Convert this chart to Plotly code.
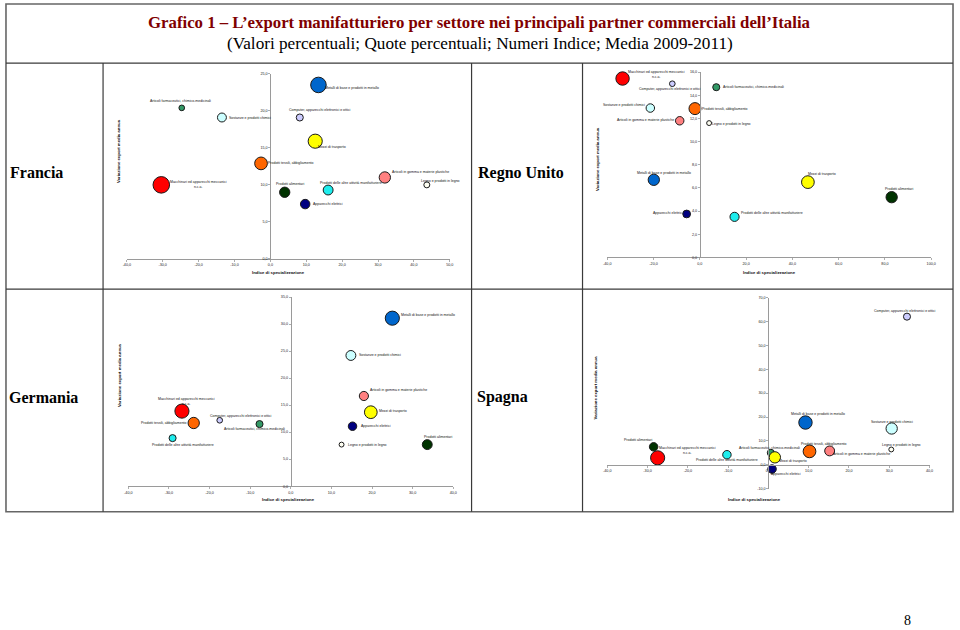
import plotly.graph_objects as go

W, H = 960, 630

# ---------------- DATA ----------------
sectors = [
    "Articoli farmaceutici, chimico-medicinali",
    "Sostanze e prodotti chimici",
    "Prodotti tessili, abbigliamento",
    "Macchinari ed apparecchi meccanici<br>n.c.a.",
    "Prodotti alimentari",
    "Metalli di base e prodotti in metallo",
    "Computer, apparecchi elettronici e ottici",
    "Mezzi di trasporto",
    "Articoli in gomma e materie plastiche",
    "Prodotti delle altre attività manifatturiere",
    "Legno e prodotti in legno",
    "Apparecchi elettrici",
]

# Indice di specializzazione (x), Variazione export media annua (y), quota (bubble)
francia_x = [-24.7, -13.5, -2.6, -30.4, 4.0, 13.4, 8.2, 12.5, 31.9, 16.1, 43.6, 9.7]
francia_y = [20.4, 19.1, 12.9, 10.0, 9.0, 23.5, 19.1, 15.9, 11.0, 9.3, 10.0, 7.4]
francia_quota = [1.6, 4.0, 8.1, 13.7, 5.3, 12.1, 2.5, 10.0, 6.4, 4.9, 1.8, 4.5]

uk_x = [7.1, -21.4, -2.1, -33.4, 82.9, -19.9, -11.9, 46.7, -8.7, 15.0, 4.0, -5.7]
uk_y = [14.7, 12.9, 12.85, 15.45, 5.2, 6.7, 15.0, 6.5, 11.8, 3.5, 11.6, 3.75]
uk_quota = [2.5, 3.6, 7.2, 9.0, 6.4, 6.4, 1.6, 8.1, 3.6, 4.2, 1.2, 3.0]

germania_x = [-7.7, 14.8, -23.9, -26.8, 33.6, 25.0, -17.5, 19.7, 18.0, -29.1, 12.5, 15.2]
germania_y = [11.5, 24.2, 11.7, 13.9, 7.7, 31.1, 12.2, 13.7, 16.7, 8.9, 7.7, 11.1]
germania_quota = [2.5, 4.9, 6.4, 10.0, 4.9, 10.0, 1.6, 8.1, 4.2, 2.5, 1.2, 3.6]

spagna_x = [0.6, 30.6, 10.2, -27.5, -28.5, 9.2, 34.4, 1.6, 15.2, -10.3, 30.5, 0.9]
spagna_y = [5.0, 15.2, 5.6, 2.9, 7.5, 17.7, 62.1, 3.1, 5.8, 4.2, 6.4, -1.8]
spagna_quota = [2.5, 6.4, 8.1, 10.0, 3.6, 9.0, 2.5, 6.4, 4.9, 3.6, 1.2, 3.6]

country_names = ["Francia", "Regno Unito", "Germania", "Spagna"]
title_text = "Grafico 1 – L’export manifatturiero per settore nei principali partner commerciali dell’Italia"
subtitle_text = "(Valori percentuali; Quote percentuali; Numeri Indice; Media 2009-2011)"
y_title = "Variazione export media annua"
x_title = "Indice di specializzazione"
page_number = "8"

# ---------------- STYLE ----------------
colors = ["#339966", "#CCFFFF", "#FF6600", "#FF0000", "#003300", "#0066CC",
          "#CCCCFF", "#FFFF00", "#FF8080", "#1EEDED", "#FFFFF2", "#000080"]

label_pos = {
    0: [('center', -1, 6.7), ('left', 6, 0), ('left', 5.7, 0), ('left', 7.3, 0.5), ('center', 5.5, 8.4),
        ('left', 6, -3.4), ('left', -11.6, 7.7), ('left', 1.7, -5.7), ('left', 6, 5.4), ('left', -9, 7),
        ('left', -6.7, 3.7), ('left', 7, 0)],
    1: [('left', 5.7, 0.7), ('right', -4.4, 3.4), ('left', 6.3, 0), ('left', 4.6, 4.4), ('center', 7, 8.3),
        ('center', 10.5, 7.3), ('center', -2.5, -5.3), ('left', -1, 8.3), ('right', -5, 0.4), ('left', 5, 4),
        ('left', 2.3, -0.7), ('right', -2.6, 1.3)],
    2: [('center', -5.2, -5.3), ('left', 6.7, 0), ('right', -5.3, 0), ('center', 4.1, 9.9), ('center', 10.7, 7.6),
        ('left', 8, 3), ('center', 21.1, 4.7), ('left', 7, 0.7), ('left', 5, 6.3), ('center', 10.5, -6.6),
        ('left', 5.3, 0), ('left', 7.3, 0)],
    3: [('center', -1.1, 5), ('center', 0.7, 6.6), ('left', -10, 7), ('left', 0.7, 7.7), ('right', -0.3, 7),
        ('center', 12.7, 8.3), ('center', -1.7, 5.7), ('left', 3.4, -3.7), ('left', 2.6, -3.3), ('center', 0, -5.3),
        ('center', 10.5, 4.6), ('left', -2, -5)],
}

panels = [
    dict(x=francia_x, y=francia_y, q=francia_quota, xr=(-40, 50), xd=10, yr=(0, 25), yd=5,
         xpx=(124, 450), ypx=(258.5, 72.3), ytp=(115, 150), xtp=(277.3, 272.3), cl=(5, 172)),
    dict(x=uk_x, y=uk_y, q=uk_quota, xr=(-40, 100), xd=20, yr=(0, 16), yd=2,
         xpx=(609, 936), ypx=(257, 70.6), ytp=(599, 157.5), xtp=(772.5, 272.3), cl=(477, 172)),
    dict(x=germania_x, y=germania_y, q=germania_quota, xr=(-40, 40), xd=10, yr=(0, 35), yd=5,
         xpx=(125.5, 453.5), ypx=(487.3, 297), ytp=(116.5, 375), xtp=(287, 501), cl=(4, 398)),
    dict(x=spagna_x, y=spagna_y, q=spagna_quota, xr=(-40, 40), xd=10, yr=(-10, 70), yd=10,
         xpx=(609, 934.3), ypx=(489.7, 297.7), ytp=(597, 387.5), xtp=(758, 500.7), cl=(476, 398)),
]

def fx(px):
    return px / W

def fy(py):
    return 1 - py / H

def fmt(v):
    return f"{v:.1f}".replace(".", ",")

fig = go.Figure()
annotations = []
axis_font = dict(family="Liberation Sans, Arial", size=3.7, color="#222222")
lbl_font = dict(family="Liberation Sans, Arial", size=3.5, color="#111111")
title_font_ax = dict(family="Liberation Sans, Arial", size=4.3, color="#111111")
AXC = "#9a9a9a"

for i, p in enumerate(panels):
    n = "" if i == 0 else str(i + 1)
    xa, ya = "x" + n, "y" + n
    x0, x1 = p["xr"]
    y0, y1 = p["yr"]
    px0 = p["xpx"][0] + (0 - x0) / (x1 - x0) * (p["xpx"][1] - p["xpx"][0])
    py0 = p["ypx"][0] + (0 - y0) / (y1 - y0) * (p["ypx"][1] - p["ypx"][0])
    xt = list(range(x0, x1 + 1, p["xd"]))
    yt = list(range(y0, y1 + 1, p["yd"]))

    xaxis = dict(domain=[fx(p["xpx"][0]), fx(p["xpx"][1])], range=[x0, x1], showgrid=False,
                 zeroline=False, showline=True, linecolor=AXC, linewidth=1,
                 ticks="outside", ticklen=2, tickcolor=AXC, tickwidth=0.8,
                 tickvals=xt, ticktext=[fmt(v) for v in xt], tickfont=axis_font, fixedrange=True)
    yaxis = dict(domain=[fy(p["ypx"][0]), fy(p["ypx"][1])], range=[y0, y1], showgrid=False,
                 zeroline=False, showline=True, linecolor=AXC, linewidth=1,
                 ticks="outside", ticklen=2, tickcolor=AXC, tickwidth=0.8,
                 tickvals=yt, ticktext=[fmt(v) for v in yt], tickfont=axis_font,
                 anchor="free", position=fx(px0), fixedrange=True)
    if y0 < 0:
        xaxis.update(anchor="free", position=fy(py0))
    else:
        xaxis.update(anchor=ya)
    fig.update_layout(**{"xaxis" + n: xaxis, "yaxis" + n: yaxis})

    fig.add_trace(go.Scatter(
        x=p["x"], y=p["y"], xaxis=xa, yaxis=ya, mode="markers",
        marker=dict(size=p["q"], sizemode="area", sizeref=0.1, color=colors,
                    line=dict(color="#1a1a1a", width=1), opacity=1),
        hoverinfo="skip", showlegend=False, cliponaxis=False))

    for k, (xv, yv) in enumerate(zip(p["x"], p["y"])):
        anc, dx, dy = label_pos[i][k]
        annotations.append(dict(x=xv, y=yv, xref=xa, yref=ya, text=sectors[k], showarrow=False,
                                xanchor=anc, yanchor="middle", xshift=dx, yshift=dy,
                                align="center", font=lbl_font, borderpad=0))

    annotations.append(dict(x=fx(p["ytp"][0]), y=fy(p["ytp"][1]), xref="paper", yref="paper",
                            text="<b>" + y_title + "</b>", textangle=-90, showarrow=False,
                            xanchor="center", yanchor="middle", font=title_font_ax))
    annotations.append(dict(x=fx(p["xtp"][0]), y=fy(p["xtp"][1]), xref="paper", yref="paper",
                            text="<b>" + x_title + "</b>", showarrow=False,
                            xanchor="center", yanchor="middle", font=title_font_ax))
    annotations.append(dict(x=fx(p["cl"][0]), y=fy(p["cl"][1]), xref="paper", yref="paper",
                            text="<b>" + country_names[i] + "</b>", showarrow=False,
                            xanchor="left", yanchor="middle", borderpad=0,
                            font=dict(family="Liberation Serif, DejaVu Serif", size=16, color="#000000")))

annotations.append(dict(x=0.5, y=fy(21), xref="paper", yref="paper", text="<b>" + title_text + "</b>",
                        showarrow=False, xanchor="center", yanchor="middle",
                        font=dict(family="Liberation Serif", size=16.8, color="#800000")))
annotations.append(dict(x=0.5, y=fy(42), xref="paper", yref="paper", text=subtitle_text,
                        showarrow=False, xanchor="center", yanchor="middle",
                        font=dict(family="Liberation Serif", size=17.2, color="#000000")))
annotations.append(dict(x=fx(912), y=fy(622), xref="paper", yref="paper", text=page_number,
                        showarrow=False, xanchor="center", yanchor="middle",
                        font=dict(family="Liberation Serif", size=14, color="#000000")))

LC = "#3a3a3a"
shapes = [
    dict(type="rect", xref="paper", yref="paper", x0=fx(2), x1=fx(958), y0=fy(513), y1=fy(2),
         line=dict(color="#666666", width=1.6)),
    dict(type="line", xref="paper", yref="paper", x0=fx(2), x1=fx(958), y0=fy(61.5), y1=fy(61.5),
         line=dict(color=LC, width=1.2)),
    dict(type="line", xref="paper", yref="paper", x0=fx(2), x1=fx(958), y0=fy(289), y1=fy(289),
         line=dict(color=LC, width=1.2)),
]
for xv in (100, 472, 584):
    shapes.append(dict(type="line", xref="paper", yref="paper", x0=fx(xv), x1=fx(xv),
                       y0=fy(513), y1=fy(61.5), line=dict(color=LC, width=1.2)))

fig.update_layout(width=W, height=H, margin=dict(l=0, r=0, t=0, b=0),
                  paper_bgcolor="white", plot_bgcolor="rgba(0,0,0,0)",
                  annotations=annotations, shapes=shapes, showlegend=False)

fig.write_html("out.html", config={"displayModeBar": False, "staticPlot": True},
               post_script="document.body.style.margin='0';document.body.style.overflow='hidden';")
